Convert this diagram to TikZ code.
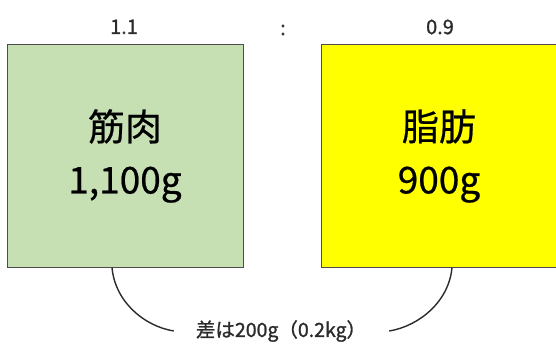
\documentclass[tikz,border=0pt]{standalone}
\usepackage{fontspec}
\setmainfont{Noto Sans CJK JP}
\newfontfamily\boldishfont[FakeBold=1.2]{Noto Sans CJK JP}
\newfontfamily\mediumfont[FakeBold=0.6]{Noto Sans CJK JP}
\definecolor{musclegreen}{HTML}{C6E0B4}
\definecolor{fatyellow}{HTML}{FFFF00}
\definecolor{edgegray}{HTML}{4D4D4D}
\definecolor{textgray}{HTML}{2B2B2B}
\tikzset{
  massbox/.style={draw=edgegray, line width=1pt, minimum width=236pt, minimum height=222pt,
    inner sep=0pt, align=center, font=\mediumfont\fontsize{37}{53}\selectfont, text=black},
  ratiolabel/.style={font=\boldishfont\fontsize{20}{22}\selectfont, text=textgray, inner sep=0pt},
  bracecurve/.style={draw=textgray, line width=1.4pt},
}
\begin{document}
\begin{tikzpicture}[x=1pt, y=-1pt]
\clip (0,0) rectangle (556,345);
\fill[white] (0,0) rectangle (556,345);
\node[massbox, fill=musclegreen] (muscle) at (125,156) {筋肉\\1,100g};
\node[massbox, fill=fatyellow] (fat) at (439,156) {脂肪\\900g};
\node[ratiolabel] (r1) at (124,27) {1.1};
\node[ratiolabel] (colon) at (283,30) {:};
\node[ratiolabel] (r2) at (440,27) {0.9};
\node[font=\boldishfont\fontsize{19.5}{22}\selectfont, text=textgray, inner sep=0pt] (diff) at (281,331) {差は200g（0.2kg）};
\coordinate (lstart) at ([xshift=-13pt]muscle.south);
\coordinate (rstart) at ([xshift=13pt]fat.south);
\coordinate (lend) at ([shift={(-22,0)}]diff.west);
\coordinate (rend) at ([shift={(23,0)}]diff.east);
\draw[bracecurve] (lstart) .. controls ([shift={(3,34)}]lstart) and ([shift={(-30,-5)}]lend) .. (lend);
\draw[bracecurve] (rend) .. controls ([shift={(30,-5)}]rend) and ([shift={(-3,34)}]rstart) .. (rstart);
\end{tikzpicture}
\end{document}
